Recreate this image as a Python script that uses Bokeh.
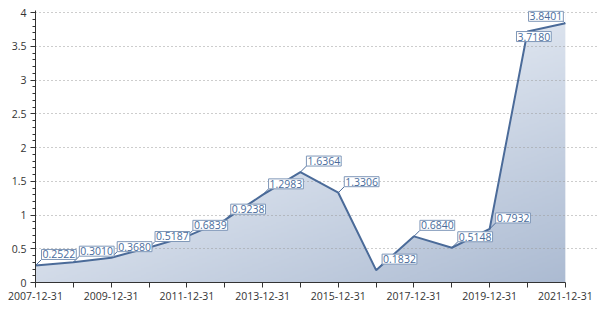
import numpy as np
from bokeh.plotting import figure
from bokeh.models import (ColumnDataSource, Range1d, FixedTicker, SingleIntervalTicker,
                          NumeralTickFormatter)
from bokeh.core.properties import value
from bokeh.embed import file_html
from bokeh.resources import INLINE

# ---- data ----
dates = ["2007-12-31", "2008-12-31", "2009-12-31", "2010-12-31", "2011-12-31",
         "2012-12-31", "2013-12-31", "2014-12-31", "2015-12-31", "2016-12-31",
         "2017-12-31", "2018-12-31", "2019-12-31", "2020-12-31", "2021-12-31"]
values = [0.2522, 0.3010, 0.3680, 0.5187, 0.6839, 0.9238, 1.2983, 1.6364,
          1.3306, 0.1832, 0.6840, 0.5148, 0.7932, 3.7180, 3.8401]
label_texts = ["%.4f" % v for v in values]

# ---- layout ----
W, H = 600, 312
BL, BR, BT, BB = 35, 3, 10, 30
X_END = 14.85
Y_END = 4.03
px_x = (W - BL - BR) / X_END
px_y = (H - BT - BB) / Y_END

xs = list(range(len(dates)))

p = figure(width=W, height=H, output_backend="svg", toolbar_location=None,
           x_range=Range1d(0, X_END), y_range=Range1d(0, Y_END),
           min_border_left=BL, min_border_right=BR, min_border_top=BT,
           min_border_bottom=BB)
p.outline_line_color = None
p.background_fill_color = "white"
p.border_fill_color = "white"

# ---- gradient fill of the area (image + white mask above the line) ----
n = 200
xn = np.linspace(0, 1, n)[None, :]
yn = np.linspace(0, 1, n)[:, None]
t = np.clip(0.55 * xn + 0.726 * (1 - yn) - 0.276, 0, 1)
light = np.array([240, 244, 250])
dark = np.array([172, 187, 210])
r = (light[0] + (dark[0] - light[0]) * t).astype(np.uint32)
g = (light[1] + (dark[1] - light[1]) * t).astype(np.uint32)
b = (light[2] + (dark[2] - light[2]) * t).astype(np.uint32)
img = (255 << 24) | (b << 16) | (g << 8) | r
img = img.astype(np.uint32)
p.image_rgba(image=[img], x=0, y=0, dw=len(dates) - 1, dh=Y_END, level="image")
p.varea(x=xs, y1=values, y2=[Y_END] * len(values), fill_color="white",
        level="image")

# ---- axes ----
yt = SingleIntervalTicker(interval=0.5, num_minor_ticks=5)
p.yaxis.ticker = yt
p.yaxis.formatter = NumeralTickFormatter(format="0.[0]")
p.ygrid.ticker = yt
p.ygrid.grid_line_color = "#9a9a9a"
p.ygrid.grid_line_dash = "1 3"
p.xgrid.grid_line_color = None

p.xaxis.ticker = FixedTicker(ticks=xs)
p.xaxis.major_label_overrides = {i: (d if i % 2 == 0 else "") for i, d in enumerate(dates)}
p.xaxis.bounds = (0, len(dates) - 1)
p.yaxis.bounds = (0, Y_END)

for ax in (p.xaxis[0], p.yaxis[0]):
    ax.axis_line_color = "#333333"
    ax.major_tick_line_color = "#333333"
    ax.minor_tick_line_color = "#333333"
    ax.major_tick_in = 0
    ax.major_tick_out = 5
    ax.minor_tick_in = 0
    ax.minor_tick_out = 3
    ax.major_label_text_font = "Open Sans"
    ax.major_label_text_font_size = "10.5px"
    ax.major_label_text_color = "#333333"
    ax.major_label_standoff = 4
p.xaxis.minor_tick_line_color = None

# ---- line ----
p.line(xs, values, line_color="#4b6b99", line_width=2)

# ---- data labels ----
dx = [6.0] * len(values)
dy = [6.0] * len(values)
anchors = ["bottom_left"] * len(values)
dx[13], dy[13], anchors[13] = -11.0, 0.0, "top_left"
dx[14], dy[14], anchors[14] = -2.0, 2.0, "bottom_right"

lx = [x + ddx / px_x for x, ddx in zip(xs, dx)]
ly = [v + ddy / px_y for v, ddy in zip(values, dy)]

src = ColumnDataSource(dict(x=xs, y=values, lx=lx, ly=ly, txt=label_texts,
                            anchor=anchors))
p.segment(x0="x", y0="y", x1="lx", y1="ly", source=src,
          line_color="#4b6b99", line_width=1)
p.text(x="lx", y="ly", text="txt", anchor="anchor", source=src,
       text_font=value("Open Sans"), text_font_size="10.5px",
       text_color="#4a6c9c", background_fill_color="white",
       border_line_color="#7f97b8", border_line_width=1, padding=1)

open("out.html", "w").write(file_html(p, INLINE))
